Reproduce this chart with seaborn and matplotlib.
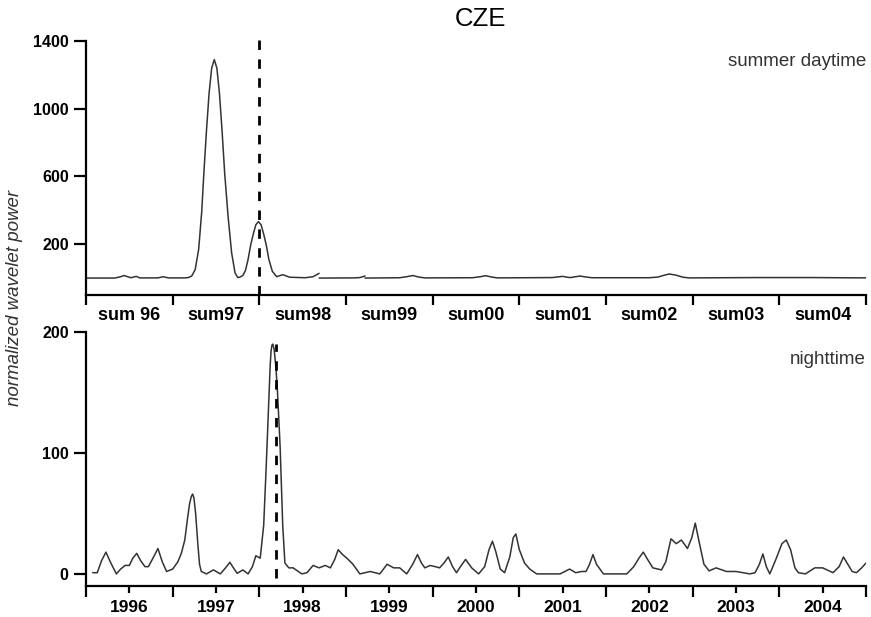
import numpy as np
import pandas as pd
import matplotlib
matplotlib.use("Agg")
import matplotlib.pyplot as plt
import seaborn as sns
from matplotlib.ticker import FixedLocator, FixedFormatter, NullFormatter

# ---------------- data ----------------
# summer daytime (three separate segments)
day_year_a = [1995.50, 1995.83, 1995.90, 1995.94, 1995.98, 1996.02, 1996.08, 1996.12, 1996.33, 1996.39,
              1996.45, 1996.64, 1996.68, 1996.72, 1996.76, 1996.80, 1996.835, 1996.86, 1996.89, 1996.92,
              1996.95, 1996.98, 1997.01, 1997.04, 1997.07, 1997.10, 1997.14, 1997.18, 1997.22, 1997.25,
              1997.27, 1997.31, 1997.34, 1997.37, 1997.40, 1997.43, 1997.46, 1997.49, 1997.52, 1997.55,
              1997.58, 1997.61, 1997.65, 1997.70, 1997.77, 1997.85, 1998.03, 1998.12, 1998.19]
day_pow_a = [0, 0, 8, 15, 8, 2, 10, 1, 1, 8,
             1, 1, 3, 12, 50, 170, 390, 620, 870, 1090,
             1240, 1290, 1240, 1090, 870, 620, 360, 150, 30, 4,
             4, 15, 45, 110, 195, 260, 315, 333, 315, 260,
             195, 110, 40, 8, 20, 5, 2, 8, 28]
day_year_b = [1998.19, 1998.60, 1998.66, 1998.72]
day_pow_b = [0, 1, 3, 12]
day_year_c = [1998.72, 1999.12, 1999.20, 1999.27, 1999.34, 1999.41, 1999.96, 2000.05, 2000.11, 2000.18,
              2000.25, 2000.88, 2000.95, 2001.0, 2001.05, 2001.09, 2001.15, 2001.2, 2001.27, 2001.34,
              2002.0, 2002.10, 2002.18, 2002.23, 2002.30, 2002.39, 2002.46, 2003.25, 2003.86, 2004.5]
day_pow_c = [0, 2, 8, 15, 6, 1, 2, 8, 14, 6,
             1, 3, 7, 10, 5, 3, 8, 12, 6, 2,
             2, 6, 18, 24, 18, 5, 1, 3, 3, 1]

# nighttime
night_year = [1995.577, 1995.63, 1995.68, 1995.73, 1995.78, 1995.85, 1995.90, 1995.95, 1996.00, 1996.04,
              1996.085, 1996.13, 1996.18, 1996.22, 1996.28, 1996.33, 1996.38, 1996.43, 1996.50, 1996.56,
              1996.60, 1996.64, 1996.67, 1996.695, 1996.715, 1996.73, 1996.745, 1996.765, 1996.79, 1996.81,
              1996.83, 1996.89,
              1996.97, 1997.05, 1997.11, 1997.16, 1997.21, 1997.245, 1997.31, 1997.37, 1997.42, 1997.46,
              1997.51, 1997.55, 1997.58, 1997.61, 1997.625, 1997.635, 1997.645, 1997.655, 1997.67, 1997.69,
              1997.71, 1997.74, 1997.77, 1997.795, 1997.84, 1997.89, 1997.99, 1998.05, 1998.12, 1998.19,
              1998.26, 1998.32,
              1998.37, 1998.41, 1998.46, 1998.51, 1998.58, 1998.66, 1998.78, 1998.89, 1998.975, 1999.05,
              1999.12, 1999.20, 1999.27, 1999.325, 1999.37, 1999.41, 1999.47, 1999.53, 1999.58, 1999.63,
              1999.68, 1999.73, 1999.775, 1999.83, 1999.88, 1999.95, 2000.03, 2000.10, 2000.15, 2000.19,
              2000.23, 2000.28, 2000.33, 2000.39, 2000.43, 2000.46, 2000.50, 2000.56, 2000.62, 2000.70,
              2000.97, 2001.08, 2001.15, 2001.22, 2001.27, 2001.31, 2001.35, 2001.39, 2001.47, 2001.74,
              2001.82, 2001.88, 2001.93, 2001.98, 2002.04, 2002.14, 2002.19, 2002.25, 2002.31, 2002.37,
              2002.44, 2002.49, 2002.53, 2002.57, 2002.63, 2002.69, 2002.77, 2002.89, 2003.0, 2003.16,
              2003.22, 2003.27, 2003.31, 2003.35, 2003.39, 2003.46, 2003.53, 2003.58, 2003.63, 2003.68,
              2003.72, 2003.80, 2003.91, 2004.0, 2004.12, 2004.19, 2004.24, 2004.29, 2004.34, 2004.39,
              2004.45, 2004.50]
night_pow = [1, 1, 11, 18, 10, 0, 4, 7, 7, 13,
             17, 11, 6, 6, 14, 21, 10, 2, 4, 10,
             17, 28, 45, 58, 64, 66, 63, 50, 25, 8,
             2, 0,
             3.3, 0, 5, 9.6, 4, 0.5, 3.3, 0, 6, 15,
             13, 40, 90, 145, 172, 184, 189, 190, 186, 172,
             150, 105, 40, 9, 5, 5, 0, 1, 7, 5,
             7, 5,
             12, 20, 16, 13, 8, 0, 2, 0, 8, 5,
             5, 0, 8, 16, 9, 5, 7, 6, 5, 9,
             14, 6, 1, 7, 12, 5, 0, 6, 20, 27,
             18, 4, 1, 14, 30, 33, 20, 9, 4, 0,
             0, 4, 1, 2, 2, 8, 16, 8, 0, 0,
             6, 13, 18, 12, 5, 3.3, 10, 29, 25, 28,
             21, 30, 42, 28, 8, 2.5, 5, 2, 2, 0,
             1, 8, 16.5, 6, 0, 12, 25, 28, 20, 5,
             1, 0, 5, 5, 1, 6, 14, 8, 2, 1,
             5, 9]

summer_labels = ["sum 96", "sum97", "sum98", "sum99", "sum00", "sum01", "sum02", "sum03", "sum04"]
year_labels = ["1996", "1997", "1998", "1999", "2000", "2001", "2002", "2003", "2004"]
year_centers = [1996, 1997, 1998, 1999, 2000, 2001, 2002, 2003, 2004]
boundaries = [1995.5, 1996.5, 1997.5, 1998.5, 1999.5, 2000.5, 2001.5, 2002.5, 2003.5, 2004.5]
day_marker_year = 1997.5
night_marker_year = 1997.69

# ---------------- figure ----------------
sns.set_style("ticks")
plt.rcParams["font.family"] = ["Liberation Sans", "DejaVu Sans"]
plt.rcParams["text.color"] = "black"
plt.rcParams["xtick.labelcolor"] = "black"
plt.rcParams["ytick.labelcolor"] = "black"

fig = plt.figure(figsize=(8.71, 6.17), dpi=100)
ax1 = fig.add_axes([86/871, 1-295/617, 780/871, 254/617])
ax2 = fig.add_axes([86/871, 1-586/617, 780/871, 254/617])

line_col = "#333333"

day_df = pd.concat([
    pd.DataFrame({"year": day_year_a, "power": day_pow_a, "seg": 0}),
    pd.DataFrame({"year": day_year_b, "power": day_pow_b, "seg": 1}),
    pd.DataFrame({"year": day_year_c, "power": day_pow_c, "seg": 2}),
], ignore_index=True)
night_df = pd.DataFrame({"year": night_year, "power": night_pow})

sns.lineplot(data=day_df, x="year", y="power", units="seg", estimator=None,
             color=line_col, lw=1.1, ax=ax1, sort=False)
sns.lineplot(data=night_df, x="year", y="power", estimator=None,
             color=line_col, lw=1.1, ax=ax2, sort=False)

ax1.plot([day_marker_year, day_marker_year], [-100, 1420], color="black", lw=2,
         linestyle=(0, (3.4, 3.4)), clip_on=False)
ax2.plot([night_marker_year, night_marker_year], [-3, 190], color="black", lw=2,
         linestyle=(0, (3.4, 3.4)))

for ax in (ax1, ax2):
    ax.set_xlim(1995.5, 2004.5)
    sns.despine(ax=ax)
    for s in ("left", "bottom"):
        ax.spines[s].set_linewidth(1.6)
        ax.spines[s].set_color("black")
    ax.set_xlabel("")
    ax.set_ylabel("")
    ax.xaxis.set_major_locator(FixedLocator(boundaries))
    ax.xaxis.set_major_formatter(NullFormatter())
    ax.tick_params(axis="y", direction="out", length=8.5, width=1.6, pad=4,
                   labelsize=11.5, color="black", labelcolor="black")

ax1.set_ylim(-100, 1400)
ax1.set_yticks([200, 600, 1000, 1400])
ax1.set_yticklabels(["200", "600", "1000", "1400"], fontweight="bold", fontsize=11.5)
ax1.xaxis.set_minor_locator(FixedLocator(year_centers))
ax1.xaxis.set_minor_formatter(FixedFormatter(summer_labels))
ax1.tick_params(axis="x", which="major", direction="out", length=7, width=1.6, color="black")
ax1.tick_params(axis="x", which="minor", length=0, pad=9, labelsize=13, labelcolor="black")
for lbl in ax1.get_xticklabels(minor=True):
    lbl.set_fontweight("bold")

ax2.set_ylim(-10, 200)
ax2.set_yticks([0, 100, 200])
ax2.set_yticklabels(["0", "100", "200"], fontweight="bold", fontsize=11.5)
ax2.xaxis.set_minor_locator(FixedLocator(year_centers))
ax2.xaxis.set_minor_formatter(FixedFormatter(year_labels))
ax2.tick_params(axis="x", which="major", direction="out", length=8, width=1.6, color="black")
ax2.tick_params(axis="x", which="minor", direction="out", length=5, width=1.6, pad=5,
                labelsize=12.5, color="black", labelcolor="black")
for lbl in ax2.get_xticklabels(minor=True):
    lbl.set_fontweight("bold")

ax1.text(1.0, 0.92, "summer daytime", transform=ax1.transAxes, ha="right", va="center",
         fontsize=13.5, color="#333333")
ax2.text(1.0, 0.89, "nighttime", transform=ax2.transAxes, ha="right", va="center",
         fontsize=13.5, color="#333333")

fig.text(480/871, 1-19/617, "CZE", ha="center", va="center", fontsize=18.5, color="black")
fig.text(15/871, 1-298/617, "normalized wavelet power", ha="center", va="center",
         rotation=90, fontsize=13.5, style="italic", color="#333333")

fig.savefig("out.png", dpi=100)
